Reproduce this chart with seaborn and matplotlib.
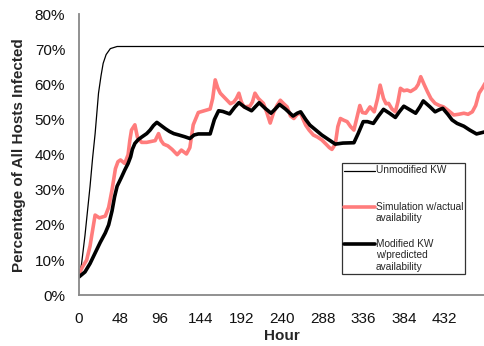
import matplotlib
matplotlib.use("Agg")
import matplotlib.pyplot as plt
import seaborn as sns

# 데이터 (그림에서 읽은 값, %)
kw_hours = [0, 3, 7, 10, 13, 16, 19, 23, 26, 28.5, 32, 37, 45, 480]
kw_pct = [5, 9, 17, 24, 31, 39, 46, 57.5, 62.5, 66, 68.5, 70.2, 70.8, 70.8]

sim_hours = [0, 4, 9, 13, 15, 19, 24, 31, 35, 39,
             43, 46, 49, 54, 58, 60, 62, 66, 69, 74,
             80, 86, 90, 94, 97, 100, 105, 110, 116, 121,
             127, 131, 135, 141, 148, 155, 158, 161, 164, 167,
             171, 175, 179, 183, 186, 189, 192, 195, 202, 205,
             208, 212, 218, 222, 226, 230, 234, 238, 242, 246,
             250, 254, 258, 262, 265, 268, 272, 277, 282, 287,
             292, 296, 299, 303, 306, 309, 313, 317, 321, 325,
             329, 332, 335, 339, 344, 349, 353, 356, 360, 363,
             366, 370, 374, 377, 380, 384, 388, 392, 398, 401,
             404, 408, 412, 416, 421, 426, 431, 437, 443, 449,
             455, 460, 465, 469, 473, 477, 480]
sim_pct = [6, 8, 10, 14, 17, 22.8, 22, 22.5, 25, 30,
           36, 38, 38.5, 37.5, 40, 44, 47, 48.5, 45, 43.5,
           43.5, 43.8, 44, 46, 44, 43, 42.5, 41.5, 40, 41.3,
           40.2, 42, 48.5, 52, 52.5, 53, 56, 61.3, 59, 57.5,
           56.5, 55.5, 54.5, 55, 56, 57.5, 55, 53.6, 53.8, 55,
           57.5, 56, 54.6, 52, 49, 52, 54, 55.5, 54.5, 53.6,
           51, 50.3, 51.5, 51.8, 50, 48.4, 47, 45.6, 45, 44.2,
           43, 42, 41.5, 43, 48, 50.3, 49.8, 49.4, 48, 47,
           51, 54, 52, 51.8, 53.6, 52.2, 56, 59.8, 56, 54.5,
           54.6, 53, 52.2, 55, 58.9, 58.2, 58.4, 58, 58.9, 60,
           62.2, 60, 57.9, 56, 54.6, 54, 53.6, 52.5, 51.3, 51.5,
           51.8, 51.5, 52.2, 54, 57.5, 59, 60.3]

mod_hours = [0, 7, 13, 19, 25, 31, 35, 39, 42, 45,
             50, 54, 58, 61, 63, 66, 70, 74, 80, 84,
             88, 92, 97, 102, 107, 112, 118, 125, 131, 136,
             141, 147, 155, 160, 165, 170, 178, 184, 189, 196,
             204, 213, 220, 227, 232, 237, 244, 253, 258, 262,
             268, 273, 280, 287, 295, 303, 312, 325, 330, 336,
             341, 348, 354, 360, 367, 374, 379, 384, 391, 398,
             403, 407, 415, 421, 425, 430, 436, 441, 447, 455,
             462, 470, 475, 480]
mod_pct = [5.2, 6.6, 9, 12, 15, 17.7, 20, 24, 28, 31,
           33.5, 35.6, 37.5, 39.4, 41.5, 43.2, 44.3, 45, 46, 47,
           48.3, 49.2, 48.3, 47.4, 46.6, 46, 45.6, 45.1, 44.6, 45.6,
           45.9, 45.9, 45.9, 50, 52.5, 52.3, 51.6, 53.5, 54.8, 53.5,
           52.5, 54.8, 53.2, 51.8, 53, 54.3, 53, 51, 51.8, 52.2,
           50, 48.4, 47, 45.6, 44.3, 43, 43.3, 43.4, 46, 49.4,
           49.4, 48.9, 51, 52.9, 51.8, 50.6, 52.3, 53.8, 52.8, 51.8,
           53.6, 55.3, 53.6, 52.2, 52.7, 53.2, 51.5, 49.9, 48.9, 48.1,
           47, 45.9, 46.2, 46.5]

x_ticks = [0, 48, 96, 144, 192, 240, 288, 336, 384, 432]
y_ticks = [0, 10, 20, 30, 40, 50, 60, 70, 80]

sns.set_style("white")
plt.rcParams['font.family'] = ['Liberation Sans', 'DejaVu Sans']

fig = plt.figure(figsize=(4.85, 3.46), dpi=100)
ax = fig.add_axes([0.163, 0.147, 0.837, 0.812])

# 레전드 칸을 같은 높이로 맞추려고 빈 줄을 덧붙임
sns.lineplot(x=kw_hours, y=kw_pct, ax=ax, color='black', linewidth=0.9,
             label='Unmodified KW\n\n')
sns.lineplot(x=sim_hours, y=sim_pct, ax=ax, color='#ff7c7c', linewidth=2.6,
             label='Simulation w/actual\navailability\n')
sns.lineplot(x=mod_hours, y=mod_pct, ax=ax, color='black', linewidth=2.6,
             label='Modified KW\nw/predicted\navailability')

ax.set_xlim(0, 480)
ax.set_ylim(0, 80)
ax.set_xticks(x_ticks)
ax.set_yticks(y_ticks)
ax.set_yticklabels([f'{v}%' for v in y_ticks])
ax.tick_params(axis='both', length=0, labelsize=11, colors='#111111')
ax.tick_params(axis='x', pad=12)
ax.tick_params(axis='y', pad=10)
ax.set_xlabel('Hour', fontsize=11, fontweight='bold', labelpad=2.5)
ax.set_ylabel('Percentage of All Hosts Infected', fontsize=11, fontweight='bold', labelpad=6)

for s in ['top', 'right']:
    ax.spines[s].set_visible(False)
for s in ['left', 'bottom']:
    ax.spines[s].set_color('#888888')
    ax.spines[s].set_linewidth(1.3)

leg = ax.legend(loc='upper left', bbox_to_anchor=(0.648, 0.47), fontsize=7.3,
                frameon=True, fancybox=False, handlelength=3.0, handletextpad=0.1,
                labelspacing=0.35, borderpad=0.2, borderaxespad=0)
leg.get_frame().set_edgecolor('black')
leg.get_frame().set_linewidth(0.9)
for t in leg.get_texts():
    t.set_linespacing(1.2)

# 핸들을 첫 줄 높이로 올림
fig.canvas.draw()
for line, text in zip(leg.get_lines(), leg.get_texts()):
    tb = text.get_window_extent()
    n = text.get_text().count('\n') + 1
    target = tb.y1 - tb.height / n / 2
    tr = line.get_transform()
    x0 = line.get_xdata()[0]
    y0 = line.get_ydata()[0]
    cur = tr.transform((x0, y0))
    new_y = tr.inverted().transform((cur[0], target))[1]
    line.set_ydata([new_y] * len(line.get_xdata()))

fig.savefig('out.png', dpi=100)
